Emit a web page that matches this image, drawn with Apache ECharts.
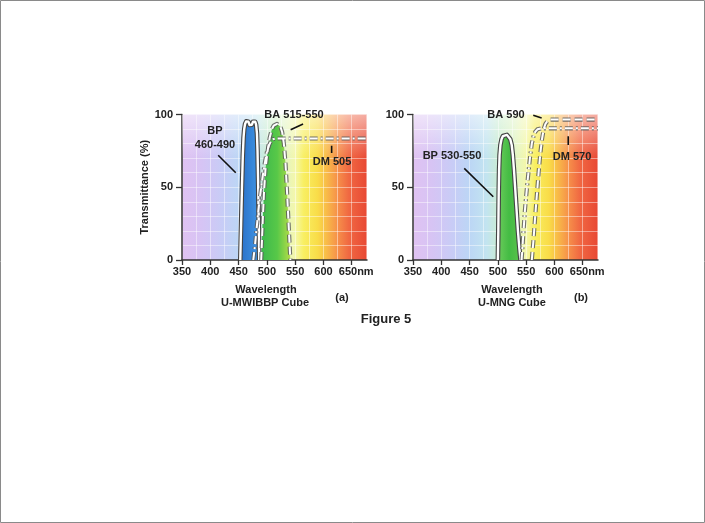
<!DOCTYPE html>
<html><head><meta charset="utf-8">
<script src="https://cdn.jsdelivr.net/npm/echarts@6/dist/echarts.min.js"></script>
<style>html,body{margin:0;padding:0;background:#fff}#c{width:705px;height:523px}</style>
</head><body><div id="c"></div>
<script>
// ---- data ----
const wavelengthTicks = [350, 400, 450, 500, 550, 600, 650];
const transTicks = [0, 50, 100];
const xMin = 350, xMax = 677;

// panel (a) U-MWIBBP cube
const bp460490 = [[453,0],[454.5,25],[456,50],[457.5,72],[458.8,84],[460,90],[461.5,93.5],[463.5,95.3],[465.5,95.7],[467.5,95],[469.5,92.8],[471.5,91.8],[473.5,93],[475.5,95],[477.5,95.7],[479.5,95],[481,93],[482.5,87],[483.5,75],[484.5,55],[485.5,30],[486.5,0]];
const ba515550 = [[490,0],[491.5,15],[493,30],[495,47],[497.5,62],[501,74],[505,84],[509,90],[512,92.3],[515,93.3],[518,93.5],[521,93],[524,91.5],[527,88],[530,80],[533,66],[535.5,48],[538,28],[540,12],[541.5,0]];
const dm505 = [[476,0],[479,10],[482,22],[485,34],[488,44],[491,53],[494,61],[497,68],[500,74],[504,79],[507,81.5],[511,83],[516,83.5],[677,83.5]];

// panel (b) U-MNG cube
const bp530550 = [[500,0],[500.8,20],[501.5,45],[502.2,62],[503,72],[504.5,79],[506.5,83],[509,85.2],[512,86],[516,86],[519,85.2],[522,83],[524.5,79],[526.5,72],[528.5,62],[530.5,50],[533,35],[535.5,20],[538,8],[540,0]];
const dm570 = [[542,0],[545,18],[548,35],[551,48],[554,60],[557,71],[560,80],[563,85],[566,88],[570,89.8],[577,90.5],[677,90.5]];
const ba590 = [[560,0],[563,14],[566,30],[569,45],[572,60],[575,73],[578,83],[581,90],[584,93.5],[588,95.7],[593,96.5],[677,96.5]];

// annotation leader lines (data coordinates)
const leadersA = [[[414,72],[445,60]], [[542,89.5],[564,93.5]], [[614.5,78.5],[614.5,73.5]]];
const leadersB = [[[440.6,63],[491.9,43.5]], [[562.5,99.5],[577.4,97.6]], [[624.4,85],[624.4,79]]];

// ---- styling ----
const FONT = 'Liberation Sans, Arial, sans-serif';
const txt = {color:'#222', fontWeight:'bold', fontSize:11, fontFamily:FONT};
const spectrumStops = [
  [350,'#e0c2f2'],[385,'#d6c4f4'],[420,'#c8ccf6'],[450,'#bcd6f5'],[480,'#c2e4f0'],
  [505,'#cbeecd'],[530,'#e0f4c4'],[550,'#f4f7aa'],[565,'#f8ef62'],[590,'#f9dc48'],
  [605,'#f8bc48'],[625,'#f6904a'],[645,'#f06842'],[677,'#e84834']];
function spectrum(){
  return {type:'linear',x:0,y:0,x2:1,y2:0,
    colorStops: spectrumStops.map(s=>({offset:(s[0]-xMin)/(xMax-xMin), color:s[1]}))};
}
const faint = {color:'rgba(255,255,255,0.45)', width:1};
const gridDefs = [{left:182},{left:413}];

function xAxisDef(i){
  return {type:'value', gridIndex:i, min:xMin, max:xMax, interval:50,
    axisLine:{show:true, onZero:false, lineStyle:{color:'#333', width:1.5}},
    axisTick:{show:true, length:5, customValues:wavelengthTicks, lineStyle:{color:'#333', width:1.3}},
    axisLabel:Object.assign({customValues:wavelengthTicks, margin:6,
      formatter:v=> v===650 ? '{n|650nm}' : String(v),
      rich:{n:Object.assign({padding:[0,0,0,9]}, txt)}}, txt),
    splitLine:{show:true, lineStyle:faint},
    minorTick:{show:false, splitNumber:2},
    minorSplitLine:{show:true, lineStyle:faint}};
}
function yAxisDef(i){
  return {type:'value', gridIndex:i, min:0, max:100, interval:50,
    axisLine:{show:true, lineStyle:{color:'#333', width:1.5}},
    axisTick:{show:true, length:6, customValues:transTicks, lineStyle:{color:'#333', width:1.3}},
    axisLabel:Object.assign({customValues:transTicks, margin:9}, txt),
    splitLine:{show:true, lineStyle:faint},
    minorTick:{show:false, splitNumber:5},
    minorSplitLine:{show:true, lineStyle:faint},
    name: i===0 ? 'Transmittance (%)' : '', nameLocation:'middle', nameGap:25,
    nameTextStyle:txt};
}

const series = [];
function curve(data, gi, opt){
  const base = {type:'line', xAxisIndex:gi, yAxisIndex:gi, data, symbol:'none', silent:true, smooth:false};
  if (opt.fill) series.push(Object.assign({}, base, {lineStyle:{opacity:0}, areaStyle:{color:opt.fill, opacity:1}, z:3}));
  series.push(Object.assign({}, base, {lineStyle:{color:opt.edge, width:opt.w+2.2, type:opt.dash||'solid', cap:'butt', join:'round'}, z:opt.z}));
  series.push(Object.assign({}, base, {lineStyle:{color:'#fff', width:opt.w, type:opt.dash||'solid', cap:'butt', join:'round'}, z:opt.z+1}));
}
const DASH = [8,4], DASHDOT = [8,3,2,3];
const blueFill = {type:'linear',x:0,y:0,x2:1,y2:0,colorStops:[{offset:0,color:'#2a70c8'},{offset:1,color:'#3f95e4'}]};
const greenFillA = {type:'linear',x:0,y:0,x2:1,y2:0,colorStops:[{offset:0,color:'#3cb84c'},{offset:0.55,color:'#58c848'},{offset:1,color:'#b4dc48'}]};
const greenFillB = {type:'linear',x:0,y:0,x2:1,y2:0,colorStops:[{offset:0,color:'#6ccc5c'},{offset:0.5,color:'#44bc44'},{offset:1,color:'#5cc24c'}]};

// white fade at top of each plot
[0,1].forEach(gi=>{
  series.push({type:'line', xAxisIndex:gi, yAxisIndex:gi, data:[], silent:true, z:2,
    markArea:{silent:true, itemStyle:{color:{type:'linear',x:0,y:0,x2:0,y2:1,colorStops:[
      {offset:0,color:'rgba(255,255,255,0.55)'},{offset:0.3,color:'rgba(255,255,255,0)'},{offset:1,color:'rgba(255,255,255,0)'}]}},
      data:[[{coord:[xMin,100]},{coord:[xMax,0]}]]}});
});

curve(ba515550, 0, {fill:greenFillA, edge:'rgba(90,90,90,0.85)', w:2, dash:DASH, z:8});
curve(dm505, 0, {edge:'rgba(90,90,90,0.85)', w:2, dash:DASHDOT, z:8});
curve(bp460490, 0, {fill:blueFill, edge:'#444', w:2.4, z:6});
curve(bp530550, 1, {fill:greenFillB, edge:'#444', w:2.4, z:6});
curve(dm570, 1, {edge:'rgba(90,90,90,0.85)', w:2, dash:DASHDOT, z:8});
curve(ba590, 1, {edge:'rgba(90,90,90,0.85)', w:2, dash:DASH, z:8});

[[leadersA,0],[leadersB,1]].forEach(([ls,gi])=>ls.forEach(seg=>{
  series.push({type:'line', xAxisIndex:gi, yAxisIndex:gi, data:seg, symbol:'none', silent:true, z:12,
    lineStyle:{color:'#111', width:1.6}});
}));

function label(text, x, y, size){
  return {type:'text', z:20, style:{text, x, y, align:'center', verticalAlign:'middle',
    fontSize:size||11, fontWeight:'bold', fontFamily:FONT, fill:'#222'}};
}

const option = {
  animation:false,
  backgroundColor:'#fff',
  grid: gridDefs.map(g=>({left:g.left, top:114.5, width:185, height:145.5, show:true,
    backgroundColor:spectrum(), borderWidth:0, containLabel:false})),
  xAxis:[xAxisDef(0), xAxisDef(1)],
  yAxis:[yAxisDef(0), yAxisDef(1)],
  series,
  graphic:[
    {type:'rect', z:0, shape:{x:0.5,y:0.5,width:704,height:522}, style:{fill:'none', stroke:'#8a8a8a', lineWidth:1}},
    label('BP', 215, 131), label('460-490', 215, 145),
    label('BA 515-550', 294, 115), label('DM 505', 332, 162),
    label('BA 590', 506, 115), label('BP 530-550', 452, 156), label('DM 570', 572, 157),
    label('Wavelength', 266, 290), label('U-MWIBBP Cube', 265, 303), label('(a)', 342, 298),
    label('Wavelength', 512, 290), label('U-MNG Cube', 512, 303), label('(b)', 581, 298),
    label('Figure 5', 386, 319, 13)
  ]
};
echarts.init(document.getElementById('c')).setOption(option);
</script></body></html>
